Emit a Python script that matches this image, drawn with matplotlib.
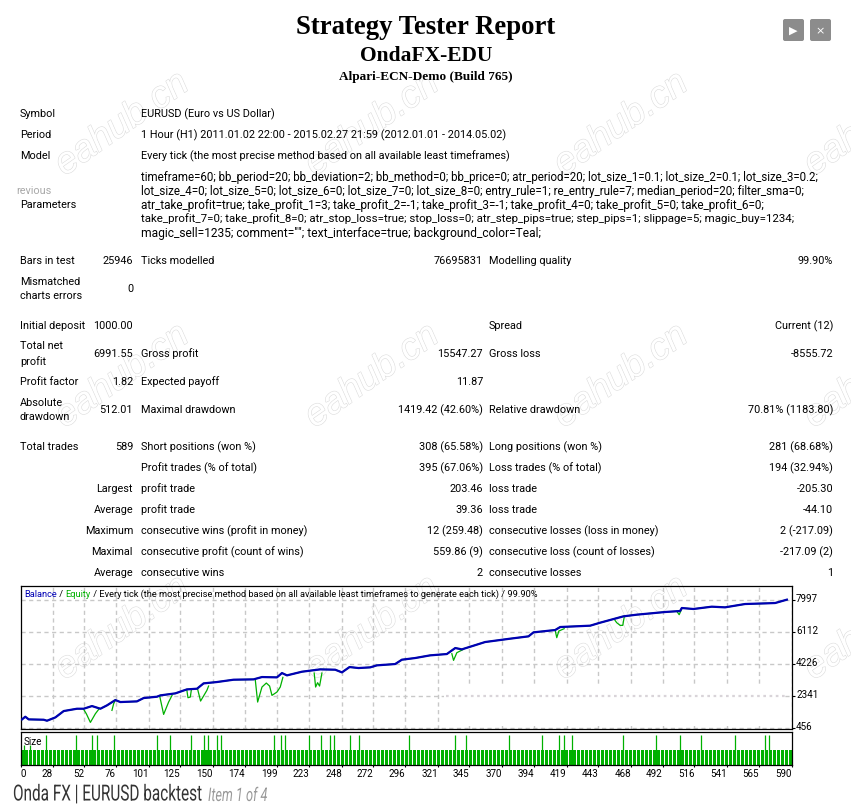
import matplotlib
matplotlib.use('Agg')
import matplotlib.pyplot as plt
import matplotlib.patheffects as pe
from matplotlib.patches import FancyBboxPatch, Rectangle
from matplotlib.transforms import Affine2D, ScaledTranslation
import numpy as np

# values
balance_n = [4.7, 7.2, 9.8, 21.2, 23.7, 30.1, 36.4, 46.5, 51.6, 57.9, 64.3, 69.3, 75.7, 79.5, 92.1, 97.2, 107.3,
             109.9, 121.3, 130.1, 137.8, 142.8, 152.9, 165.6, 180.8, 187.2, 198.6, 202.4, 206.2, 217.6, 231.5,
             242.9, 248, 253.8, 260.6, 269.5, 274.6, 288.5, 293.6, 303.7, 315.1, 327.8, 334.2, 339.2, 356.9,
             375.9, 389.9, 393.7, 410.2, 414, 436.8, 444.4, 462.1, 472.2, 493.8, 505.2, 506.5, 515.3, 529.3,
             539.4, 554.6, 571.1, 577.5, 586.4]
balance = [966, 1123, 966, 946, 887, 1084, 1457, 1594, 1594, 1751, 1594, 1791, 2105, 1987, 2026, 2223, 2301,
           2380, 2498, 2733, 2773, 3087, 3166, 3303, 3323, 3460, 3441, 3696, 3558, 3774, 3912,
           3892, 3735, 4049, 3990, 4030, 4148, 4226, 4481, 4580, 4737, 4815, 5169, 5090, 5522,
           5719, 5856, 6092, 6229, 6406, 6485, 6661, 7035, 7133, 7290, 7349, 7526, 7467, 7604,
           7565, 7761, 7801, 7820, 8017]

# equity only leaves the balance line during these drawdowns
dip_n = [[51.6, 53.6, 56.7, 60.5, 63], [73.1, 74.4, 75.7], [109.4, 112.4, 116.2, 118.8],
         [130.1, 130.9, 132.7, 133.5], [138.3, 140.5, 145.3, 146.6],
         [182.1, 183.9, 187.2, 190.5, 193, 194.8, 198.6, 201.1, 203.1],
         [226.9, 228, 229.5, 231, 232.8], [331.6, 332.9, 335.4, 340.4], [410.2, 411.4, 413, 417],
         [455.7, 457, 459.6, 461.6, 462.7], [502.7, 504.5, 506.5]]
dip_val = [[1555, 1300, 789, 1300, 1555], [1496, 1889, 2105], [2341, 1260, 1987, 2380],
           [2675, 2243, 2282, 2714], [2733, 2046, 2675, 2930],
           [3303, 1987, 2871, 3107, 2930, 2380, 2577, 2871, 3441],
           [3696, 2871, 3127, 2930, 3696], [4835, 4442, 4894, 5090], [6210, 5778, 6171, 6308],
           [6799, 6661, 6504, 6504, 6995], [7329, 7133, 7486]]

tall_trades = [23, 46, 58, 62, 75, 107, 117, 133, 143, 146, 153, 156, 196, 202, 205, 223, 232, 239, 242, 254, 261,
               299, 334, 342, 375, 400, 413, 417, 423, 462, 487, 505, 521, 547, 570, 573]
mid_trades = [6, 11]

x_ticks = [28, 52, 76, 101, 125, 150, 174, 199, 223, 248, 272, 296, 321, 345, 370, 394, 419, 443, 468, 492, 516,
           541, 565, 590]
y_ticks = [456, 2341, 4226, 6112, 7997]

symbol = 'EURUSD (Euro vs US Dollar)'
period = '1 Hour (H1) 2011.01.02 22:00 - 2015.02.27 21:59 (2012.01.01 - 2014.05.02)'
model = 'Every tick (the most precise method based on all available least timeframes)'
params = ['timeframe=60; bb_period=20; bb_deviation=2; bb_method=0; bb_price=0; atr_period=20; lot_size_1=0.1; lot_size_2=0.1; lot_size_3=0.2;',
          'lot_size_4=0; lot_size_5=0; lot_size_6=0; lot_size_7=0; lot_size_8=0; entry_rule=1; re_entry_rule=7; median_period=20; filter_sma=0;',
          'atr_take_profit=true; take_profit_1=3; take_profit_2=-1; take_profit_3=-1; take_profit_4=0; take_profit_5=0; take_profit_6=0;',
          'take_profit_7=0; take_profit_8=0; atr_stop_loss=true; stop_loss=0; atr_step_pips=true; step_pips=1; slippage=5; magic_buy=1234;',
          'magic_sell=1235; comment=""; text_interface=true; background_color=Teal;']

# y, col0, col1, col2, col3, col4, col5
rows = [(260, 'Bars in test', '25946', 'Ticks modelled', '76695831', 'Modelling quality', '99.90%'),
        (288, 'Mismatched\ncharts errors', '0', '', '', '', ''),
        (325, 'Initial deposit', '1000.00', '', '', 'Spread', 'Current (12)'),
        (353, 'Total net\nprofit', '6991.55', 'Gross profit', '15547.27', 'Gross loss', '-8555.72'),
        (381, 'Profit factor', '1.82', 'Expected payoff', '11.87', '', ''),
        (409, 'Absolute\ndrawdown', '512.01', 'Maximal drawdown', '1419.42 (42.60%)', 'Relative drawdown', '70.81% (1183.80)'),
        (446, 'Total trades', '589', 'Short positions (won %)', '308 (65.58%)', 'Long positions (won %)', '281 (68.68%)'),
        (467, '', '', 'Profit trades (% of total)', '395 (67.06%)', 'Loss trades (% of total)', '194 (32.94%)'),
        (488, '', 'Largest', 'profit trade', '203.46', 'loss trade', '-205.30'),
        (509, '', 'Average', 'profit trade', '39.36', 'loss trade', '-44.10'),
        (530, '', 'Maximum', 'consecutive wins (profit in money)', '12 (259.48)', 'consecutive losses (loss in money)', '2 (-217.09)'),
        (551, '', 'Maximal', 'consecutive profit (count of wins)', '559.86 (9)', 'consecutive loss (count of losses)', '-217.09 (2)'),
        (572, '', 'Average', 'consecutive wins', '2', 'consecutive losses', '1')]

W, H = 851, 812
UI = 'Roboto'
UI_SIZE = 7.8
CHART_SIZE = 6.7
BLUE = '#0000B4'
GREEN = '#00B000'


class Squeeze(pe.AbstractPathEffect):
    # narrower glyphs for the caption, no condensed font here
    def __init__(self, k):
        super().__init__()
        self.k = k

    def draw_path(self, renderer, gc, tpath, affine, rgbFace=None):
        renderer.draw_path(gc, tpath, Affine2D().scale(self.k, 1) + affine, rgbFace)


def px_axes(x0, y0, x1, y1, **kw):
    return fig.add_axes([x0 / W, 1 - y1 / H, (x1 - x0) / W, (y1 - y0) / H], **kw)


fig = plt.figure(figsize=(W / 100, H / 100), dpi=100, facecolor='white')

# watermark layer, lowest
wm = px_axes(0, 0, W, H, zorder=0)
wm.set_xlim(0, W)
wm.set_ylim(H, 0)
wm.axis('off')
for cy in [125, 377, 629]:
    for cx in [122, 372, 621, 871]:
        wm.text(cx, cy, 'eahub.cn', fontsize=27, style='italic', family='Liberation Sans', color='white',
                rotation=35, ha='center', va='center', rotation_mode='anchor', clip_on=True,
                path_effects=[pe.withStroke(linewidth=0.8, foreground='#dcdcdc')])

# equity chart
ax = px_axes(20.7, 587, 791.6, 730, zorder=2)
ax.patch.set_visible(False)
ax.set_xlim(3.7, 590)
ax.set_ylim(400, 8822)
ax.set_yticks(y_ticks)
ax.set_xticks(x_ticks)
ax.grid(True, color='#c8c8c8', ls=(0, (3, 2.5)), lw=1)
ax.set_axisbelow(True)
ax.tick_params(axis='x', length=0, labelbottom=False)
ax.yaxis.tick_right()
ax.tick_params(axis='y', length=2, width=0.8, pad=1.2)
ax.set_yticklabels([str(v) for v in y_ticks], family=UI, fontsize=CHART_SIZE + 0.4, va='center')
for lab in ax.get_yticklabels():
    lab.set_transform(lab.get_transform() + ScaledTranslation(0, 0.02, fig.dpi_scale_trans))
# blurred patch over the lower right of the chart
ax.add_patch(Rectangle((326, 573), 259, 2298, fc='white', ec='none', zorder=1.5))
ax.plot([327, 585], [2341, 2341], color='#c9c3c9', lw=1.6, ls=(0, (1.2, 1.6)), alpha=0.7, zorder=1.6)
ax.plot(balance_n, balance, color=GREEN, lw=1, zorder=3)
for xs, ys in zip(dip_n, dip_val):
    ax.plot(xs, ys, color=GREEN, lw=0.9, zorder=3)
ax.plot(balance_n, balance, color=BLUE, lw=1.6, zorder=4)
for s in ax.spines.values():
    s.set_linewidth(0.9)

# chart caption, coloured pieces in a row
t = ax.text(0.005, 0.947, 'Balance', color=BLUE, family=UI, fontsize=CHART_SIZE, transform=ax.transAxes, va='center')
for piece, col in [(' / ', 'black'), ('Equity', GREEN),
                   (' / Every tick (the most precise method based on all available least timeframes to generate each tick) / 99.90%', 'black')]:
    t = ax.annotate(piece, xy=(1, 0.5), xycoords=t, va='center', color=col, family=UI, fontsize=CHART_SIZE)

# lot size panel, one bar is about 3 trades wide
ax2 = px_axes(20.7, 733, 791.6, 766, zorder=2)
bar_trades = np.arange(5, 590, 3.042)
bar_sizes = [0.1] * len(bar_trades)
ax2.bar(bar_trades, bar_sizes, width=2.28, color=GREEN, lw=0)
ax2.vlines(tall_trades, 0, 0.2, color=GREEN, lw=0.9)
ax2.vlines(mid_trades, 0, 0.135, color=GREEN, lw=0.9)
ax2.set_xlim(3.7, 590)
ax2.set_ylim(0, 0.223)
ax2.set_yticks([])
ax2.set_xticks([3.7] + x_ticks)
ax2.tick_params(axis='x', length=1.5, width=0.8, pad=0.5)
ax2.set_xticklabels(['0'] + [str(v) for v in x_ticks], family=UI, fontsize=CHART_SIZE + 0.4, ha='right')
ax2.get_xticklabels()[0].set_ha('left')
for s in ax2.spines.values():
    s.set_linewidth(0.9)
ax2.text(0.004, 0.74, 'Size', transform=ax2.transAxes, family=UI, fontsize=CHART_SIZE + 0.4, va='center')

# page text on top
pg = px_axes(0, 0, W, H, zorder=3)
pg.set_xlim(0, W)
pg.set_ylim(H, 0)
pg.axis('off')
pg.patch.set_visible(False)


def ui(x, y, s, ha='left', color='black', size=UI_SIZE):
    pg.text(x, y, s, ha=ha, va='center', family=UI, fontsize=size, color=color, linespacing=1.5)


SERIF = 'Liberation Serif'
pg.text(426, 27, 'Strategy Tester Report', ha='center', va='center', family=SERIF, weight='bold', fontsize=19.3)
pg.text(426, 56, 'OndaFX-EDU', ha='center', va='center', family=SERIF, weight='bold', fontsize=15.5)
pg.text(426, 77, 'Alpari-ECN-Demo (Build 765)', ha='center', va='center', family=SERIF, weight='bold', fontsize=9.5)

ui(20, 114, 'Symbol')
ui(141, 114, symbol)
ui(20, 135, 'Period')
ui(141, 135, period)
ui(20, 156, 'Model')
ui(141, 156, model)
ui(16, 191, 'revious', color='#a8a8a8')
ui(20, 205, 'Parameters')
# the parameter lines run a little wider than the rest of the table
for y, line, size in zip([177, 191, 205, 219, 233], params, [8.32, 8.35, 8.45, 8.27, 8.65]):
    ui(141, y, line, size=size)

for y, c0, c1, c2, c3, c4, c5 in rows:
    ui(20, y + 1, c0)
    ui(133, y + 1, c1, ha='right')
    ui(141, y + 1, c2)
    ui(483, y + 1, c3, ha='right')
    ui(489, y + 1, c4)
    ui(833, y + 1, c5, ha='right')

# next / close buttons
for x0, glyph in [(783, '\u25b6'), (810, '\u00d7')]:
    pg.add_patch(FancyBboxPatch((x0 + 2, 22), 17, 18, boxstyle='round,pad=2', fc='#8c8c8c', ec='none'))
    pg.text(x0 + 10.5, 31, glyph, ha='center', va='center', color='white', family='DejaVu Sans', fontsize=8)

# gallery caption
pg.text(13, 796, 'Onda FX | EURUSD backtest', ha='left', va='center', family=UI, fontsize=16, color='#333333',
        path_effects=[Squeeze(0.69)])
pg.text(208, 797, 'Item 1 of 4', ha='left', va='center', family=UI, style='italic', fontsize=13.5, color='#999999',
        path_effects=[Squeeze(0.68)])

fig.savefig('out.png', dpi=100)
